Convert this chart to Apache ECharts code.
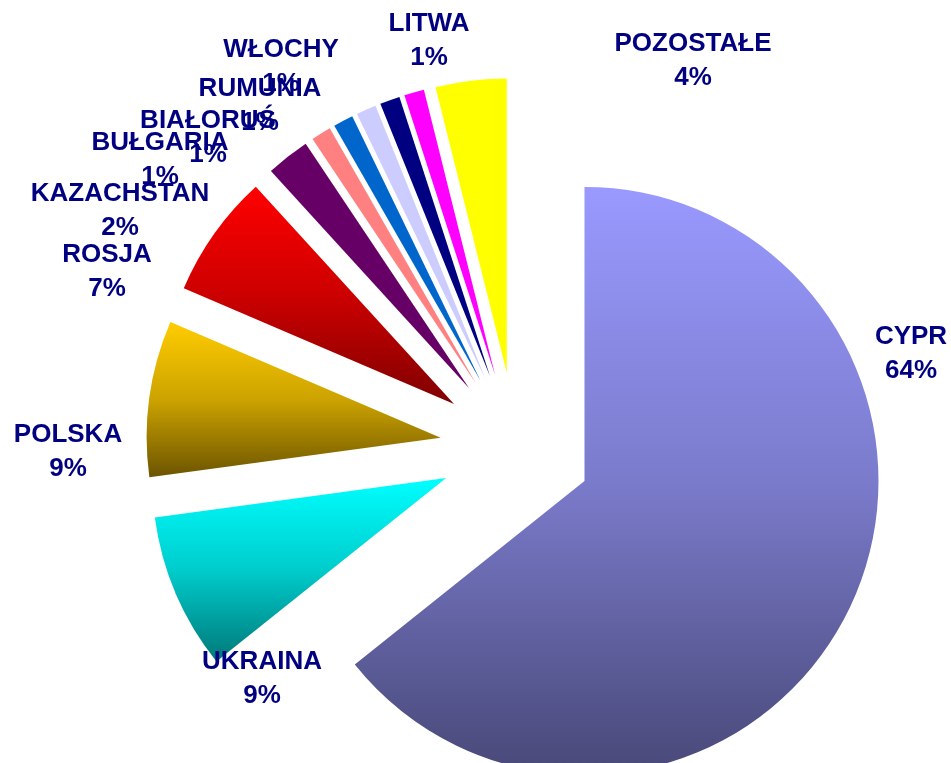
<!DOCTYPE html>
<html>
<head>
<meta charset="utf-8">
<script src="https://cdn.jsdelivr.net/npm/echarts@6/dist/echarts.min.js"></script>
<style>
html,body{margin:0;padding:0;background:#fff;}
#chart{width:951px;height:763px;}
</style>
</head>
<body>
<div id="chart"></div>
<script>
// Data
var categories = ['CYPR','UKRAINA','POLSKA','ROSJA','KAZACHSTAN','BUŁGARIA','BIAŁORUŚ','RUMUNIA','WŁOCHY','LITWA','POZOSTAŁE'];
var values = [64.4, 8.6, 8.6, 6.8, 2.4, 1.1, 1.1, 1.1, 1.1, 1.1, 3.9];

// Styles
var topColors = ['#9999FF','#00FFFF','#FFCC00','#FF0000','#660066','#FF8080','#0066CC','#CCCCFF','#000080','#FF00FF','#FFFF00'];
var midColors = ['#7B7BCC','#00CCCC','#CCA300','#CC0000','#660066','#FF8080','#0066CC','#CCCCFF','#000080','#FF00FF','#FFFF00'];
var bottomColors = ['#484878','#007878','#6C5400','#800000','#660066','#FF8080','#0066CC','#CCCCFF','#000080','#FF00FF','#FFFF00'];
// Label block centres (text placement only)
var labelPos = [[911,354],[262,679],[68,452],[107,272],[120,211],[160,160],[208,138],[260,106],[281,67],[429,41],[693,61]];

var total = values.reduce(function(a,b){return a+b;},0);

var chart = echarts.init(document.getElementById('chart'), null, {renderer:'canvas'});
var data = categories.map(function(name, i){
  return {
    name: name,
    value: values[i],
    selected: true,
    itemStyle: {
      color: new echarts.graphic.LinearGradient(0,0,0,1,[
        {offset:0,color:topColors[i]},
        {offset:0.5,color:midColors[i]},
        {offset:1,color:bottomColors[i]}
      ])
    }
  };
});

var labels = categories.map(function(name, i){
  var pct = Math.round(values[i] / total * 100);
  return {
    type: 'text',
    x: labelPos[i][0],
    y: labelPos[i][1],
    z: 100,
    style: {
      text: name + '\n' + pct + '%',
      fill: '#000080',
      font: 'bold 26px "Liberation Sans", Arial, sans-serif',
      lineHeight: 34,
      align: 'center',
      verticalAlign: 'middle'
    }
  };
});

chart.setOption({
  animation: false,
  backgroundColor: '#ffffff',
  graphic: labels,
  series: [{
    type: 'pie',
    center: [516, 448],
    radius: 294,
    startAngle: 90,
    clockwise: true,
    selectedMode: 'multiple',
    selectedOffset: 76,
    emphasis: {disabled: true},
    itemStyle: {borderWidth: 0},
    label: {show: false},
    labelLine: {show: false},
    data: data
  }]
});
</script>
</body>
</html>
